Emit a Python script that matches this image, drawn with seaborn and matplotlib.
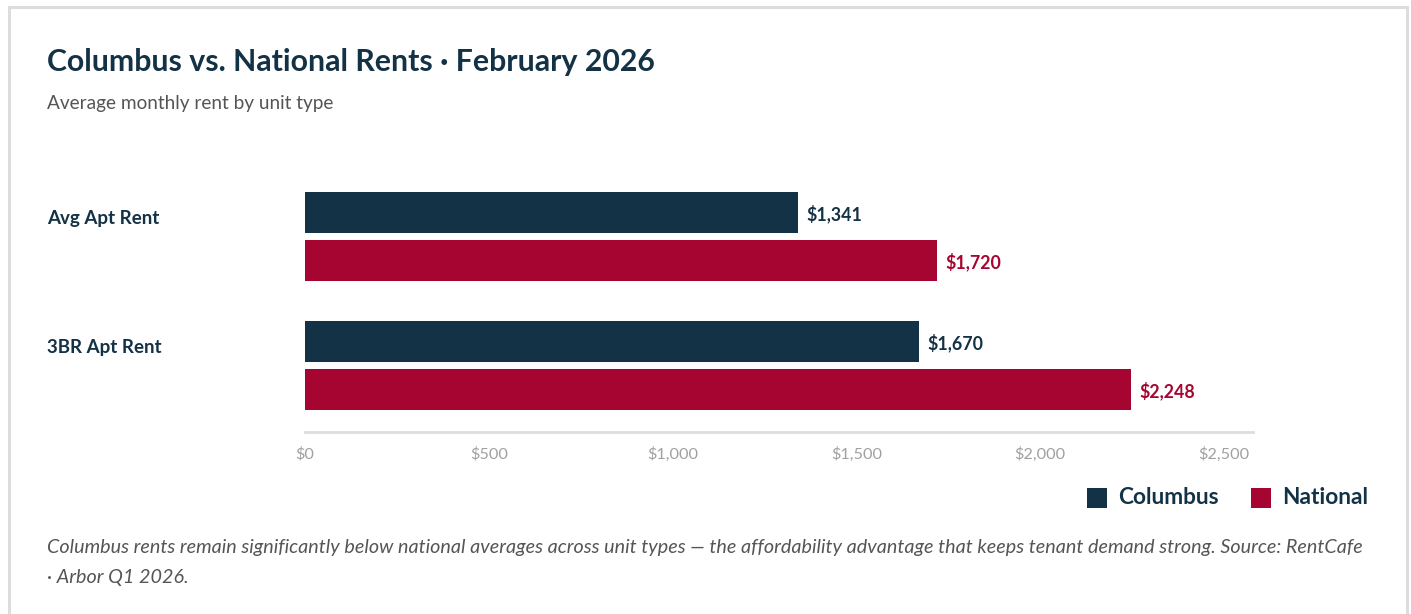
import matplotlib
matplotlib.use("Agg")
import matplotlib.pyplot as plt
import matplotlib.transforms as mtransforms
from matplotlib.patches import Rectangle
import pandas as pd
import seaborn as sns

# Data
categories = ["Avg Apt Rent", "3BR Apt Rent"]
series = ["Columbus", "National"]
columbus_rent = [1341, 1670]
national_rent = [1720, 2248]
tick_values = [0, 500, 1000, 1500, 2000, 2500]
tick_labels = ["$0", "$500", "$1,000", "$1,500", "$2,000", "$2,500"]

NAVY = "#143246"
CRIMSON = "#a50530"
palette = {"Columbus": NAVY, "National": CRIMSON}

df = pd.DataFrame({
    "category": categories * 2,
    "series": [series[0]] * len(categories) + [series[1]] * len(categories),
    "rent": columbus_rent + national_rent,
})

sns.set_theme(style="white")
plt.rcParams["font.family"] = ["Lato", "DejaVu Sans"]

W, H, DPI = 1411, 614, 100
fig = plt.figure(figsize=(W / DPI, H / DPI), dpi=DPI)
fig.patch.set_facecolor("white")

def fx(px):
    return px / W

def fy(py):
    return 1 - py / H

# Card border
fig.patches.append(Rectangle((fx(9), fy(640)), fx(1398), (640 - 7) / H,
                             transform=fig.transFigure, fill=False,
                             edgecolor="#dddddd", linewidth=2.2, zorder=0))

# Plot area
ax_left, ax_right, ax_top, ax_bottom = 305, 1253, 172, 432
ax = fig.add_axes([fx(ax_left), fy(ax_bottom), fx(ax_right - ax_left),
                   (ax_bottom - ax_top) / H])

sns.barplot(data=df, y="category", x="rent", hue="series", order=categories,
            hue_order=series, palette=palette, orient="h", width=0.744,
            gap=0.146, saturation=1, legend=False, linewidth=0, ax=ax)

xmax = 2500 * (ax_right - ax_left) / (1224 - ax_left)
ax.set_xlim(0, xmax)
ax.set_ylim(1.5155, -0.5)

ax.set_xticks(tick_values)
ax.set_xticklabels(tick_labels, color="#a0a0a0", fontsize=11.7)
ax.tick_params(axis="x", length=0, pad=11)
ax.set_yticks([])
ax.set_xlabel("")
ax.set_ylabel("")
for side in ["top", "right", "left"]:
    ax.spines[side].set_visible(False)
ax.spines["bottom"].set_color("#dddddd")
ax.spines["bottom"].set_linewidth(2)
ax.grid(False)

# Value labels at the bar ends
for container, name in zip(ax.containers, series):
    color = palette[name]
    for bar in container:
        val = bar.get_width()
        ax.annotate(f"${val:,.0f}", xy=(val, bar.get_y() + bar.get_height() / 2),
                    xytext=(6, -1), textcoords="offset points", ha="left",
                    va="center", fontsize=12.8, fontweight="bold", color=color)

# Category labels on the left
trans = mtransforms.blended_transform_factory(fig.transFigure, ax.transData)
for i, cat in enumerate(categories):
    ax.text(fx(47), i - 0.14, cat, transform=trans, ha="left", va="center",
            fontsize=13.5, fontweight="bold", color=NAVY)

# Title and subtitle
fig.text(fx(47), fy(62), "Columbus vs. National Rents \u00b7 February 2026",
         ha="left", va="center", fontsize=21.8, fontweight="bold", color=NAVY)
fig.text(fx(47), fy(103), "Average monthly rent by unit type", ha="left",
         va="center", fontsize=13.7, color="#555555")

# Legend
legend_items = [(1087, 1118, "Columbus", NAVY), (1251, 1282, "National", CRIMSON)]
for sq_x, tx_x, label, color in legend_items:
    fig.patches.append(Rectangle((fx(sq_x), fy(508)), fx(20), 20 / H,
                                 transform=fig.transFigure, facecolor=color,
                                 edgecolor="none"))
    fig.text(fx(tx_x), fy(498), label, ha="left", va="center", fontsize=16.3,
             fontweight="bold", color=NAVY)

# Footnote
fig.text(fx(47), fy(547),
         "Columbus rents remain significantly below national averages across unit types \u2014 "
         "the affordability advantage that keeps tenant demand strong. Source: RentCafe",
         ha="left", va="center", fontsize=14.2, style="italic", color="#555555")
fig.text(fx(47), fy(577), "\u00b7 Arbor Q1 2026.", ha="left", va="center",
         fontsize=14.2, style="italic", color="#555555")

fig.savefig("out.png", dpi=DPI, facecolor="white")
